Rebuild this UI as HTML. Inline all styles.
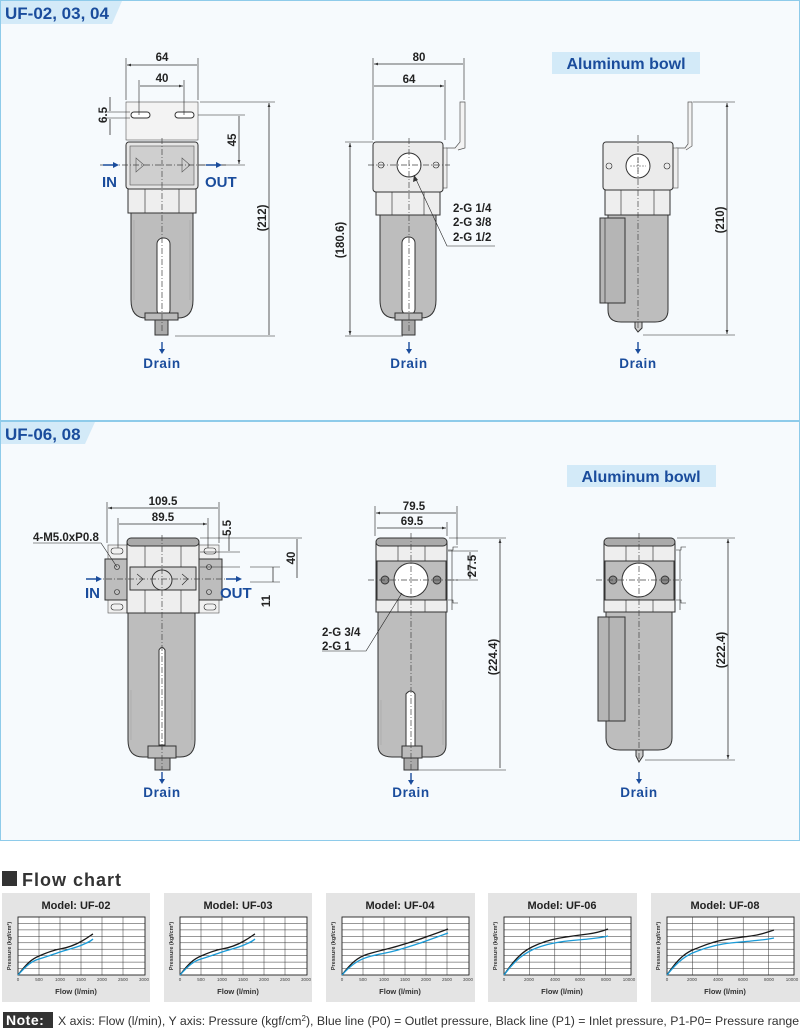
<!DOCTYPE html>
<html><head><meta charset="utf-8"><style>
html,body{margin:0;padding:0;background:#fff;width:800px;height:1028px;overflow:hidden}
svg{display:block;font-family:"Liberation Sans",Arial,sans-serif}
.d{stroke:#333;stroke-width:.8;fill:none}
.t{font-size:11.5px;font-weight:bold;fill:#222}
.b{font-weight:bold;fill:#1a4c9c}
.o{stroke:#333;stroke-width:1}
.cl{stroke:#444;stroke-width:.7;stroke-dasharray:6 2 1 2;fill:none}
.g{stroke:#222;stroke-width:.6;fill:none}
</style></head><body>
<svg width="800" height="1028" viewBox="0 0 800 1028">
<defs>
<marker id="a" viewBox="0 0 10 10" refX="10" refY="5" markerWidth="7" markerHeight="5" orient="auto-start-reverse"><path d="M0,1.5L10,5L0,8.5z" fill="#333"/></marker>
</defs>
<rect x="0.5" y="0.5" width="799" height="420" fill="#f6fafd" stroke="#8ecbea"/>
<rect x="0.5" y="421.5" width="799" height="419" fill="#f6fafd" stroke="#8ecbea"/>
<path d="M1,1H122L112,24H1z" fill="#d3eaf8"/>
<text x="5" y="19" font-size="17" font-weight="bold" fill="#1a4c9c">UF-02, 03, 04</text>
<path d="M1,422H95L85,444H1z" fill="#d3eaf8"/>
<text x="5" y="440" font-size="17" font-weight="bold" fill="#1a4c9c">UF-06, 08</text>
<rect x="552" y="52" width="148" height="22" fill="#d3eaf8"/>
<text x="626" y="69" text-anchor="middle" font-size="16" font-weight="bold" fill="#1a4c9c">Aluminum bowl</text>
<rect x="567" y="465" width="149" height="22" fill="#d3eaf8"/>
<text x="641" y="482" text-anchor="middle" font-size="16" font-weight="bold" fill="#1a4c9c">Aluminum bowl</text>

<!-- Drawing 1 -->
<g>
<rect x="126" y="102" width="72" height="38" fill="#f3f3f3" stroke="#555" stroke-width=".6"/>
<rect x="131" y="112" width="19" height="6" rx="3" fill="#fff" class="o" stroke-width=".7"/>
<rect x="175" y="112" width="19" height="6" rx="3" fill="#fff" class="o" stroke-width=".7"/>
<rect x="126" y="142" width="72" height="47" rx="3" fill="#e6e6e6" class="o"/>
<rect x="130" y="146" width="64" height="39" fill="#cfcfcf" stroke="#555" stroke-width=".6"/>
<path d="M136,158L144,165L136,172ZM182,158L190,165L182,172Z" fill="none" stroke="#555" stroke-width=".6"/>
<rect x="128" y="189" width="68" height="24" fill="#eee" class="o"/>
<path d="M145,189V213M179,189V213" class="g"/>
<path d="M131,213H193V300Q193,318 178,318H146Q131,318 131,300Z" fill="#bdbdbd" class="o"/>
<path d="M134,220V300M190,220V300" stroke="#aaa" stroke-width=".8"/>
<rect x="157" y="238" width="13" height="78" rx="6" fill="#fff" class="o" stroke-width=".7"/>
<rect x="145" y="313" width="33" height="7" fill="#bbb" class="o" stroke-width=".7"/>
<rect x="155" y="320" width="13" height="15" fill="#aaa" class="o" stroke-width=".7"/>
<path d="M162,138V332M100,165H226" class="cl"/>
<path d="M126,100V58M198,100V58M139,115V80M184,115V80" class="g"/>
<path d="M127,65H197M140,86H183" class="d" marker-start="url(#a)" marker-end="url(#a)"/>
<text x="162" y="61" class="t" text-anchor="middle">64</text>
<text x="162" y="82" class="t" text-anchor="middle">40</text>
<path d="M200,102H275M175,336H275M198,115H245M198,165H245M106,112H130M106,118H130" class="g"/>
<path d="M269,103V335M239,116V164" class="d" marker-start="url(#a)" marker-end="url(#a)"/>
<path d="M110,97V111M110,119V135" class="d"/>
<text transform="translate(266,218) rotate(-90)" class="t" text-anchor="middle" font-weight="normal">(212)</text>
<text transform="translate(236,140) rotate(-90)" class="t" text-anchor="middle">45</text>
<text transform="translate(107,115) rotate(-90)" class="t" text-anchor="middle">6.5</text>
<path d="M103,165H114" stroke="#1a4c9c" stroke-width="1.5"/><path d="M113,162L119,165L113,168Z" fill="#1a4c9c"/>
<path d="M206,165H217" stroke="#1a4c9c" stroke-width="1.5"/><path d="M216,162L222,165L216,168Z" fill="#1a4c9c"/>
<text x="102" y="187" font-size="15" class="b">IN</text>
<text x="205" y="187" font-size="15" class="b">OUT</text>
<path d="M162,342V350" stroke="#1a4c9c" stroke-width="1.4"/><path d="M159,349L162,354L165,349Z" fill="#1a4c9c"/>
<text x="162" y="368" text-anchor="middle" font-size="13.5" class="b" letter-spacing=".6">Drain</text>
</g>

<!-- Drawing 2 -->
<g>
<path d="M446,148H455L460,142V102H465V148L458,150" fill="#f3f3f3" stroke="#555" stroke-width=".7"/>
<rect x="443" y="148" width="4" height="40" fill="#eee" stroke="#555" stroke-width=".6"/>
<rect x="373" y="142" width="70" height="50" rx="3" fill="#ebebeb" class="o"/>
<circle cx="409" cy="165" r="12" fill="#fff" class="o"/>
<circle cx="381" cy="165" r="3" class="g"/><circle cx="436" cy="165" r="3" class="g"/>
<rect x="376" y="192" width="64" height="23" fill="#eee" class="o"/>
<path d="M392,192V215M424,192V215" class="g"/>
<path d="M380,215H436V300Q436,318 421,318H395Q380,318 380,300Z" fill="#bdbdbd" class="o"/>
<rect x="402" y="237" width="13" height="78" rx="6" fill="#fff" class="o" stroke-width=".7"/>
<rect x="395" y="313" width="27" height="7" fill="#bbb" class="o" stroke-width=".7"/>
<rect x="402" y="320" width="13" height="15" fill="#aaa" class="o" stroke-width=".7"/>
<path d="M409,138V332M368,165H450" class="cl"/>
<path d="M373,140V58M464,100V58M445,140V80M345,142H373M345,336H403" class="g"/>
<path d="M374,64H463M374,86H444" class="d" marker-start="url(#a)" marker-end="url(#a)"/>
<path d="M350,143V335" class="d" marker-start="url(#a)" marker-end="url(#a)"/>
<text x="419" y="61" class="t" text-anchor="middle">80</text>
<text x="409" y="83" class="t" text-anchor="middle">64</text>
<text transform="translate(344,240) rotate(-90)" class="t" text-anchor="middle">(180.6)</text>
<path d="M495,246H447L414,175" class="g"/><path d="M414,175L413,182L418,180Z" fill="#333"/>
<text x="453" y="212" class="t">2-G 1/4</text>
<text x="453" y="226" class="t">2-G 3/8</text>
<text x="453" y="241" class="t">2-G 1/2</text>
<path d="M409,342V350" stroke="#1a4c9c" stroke-width="1.4"/><path d="M406,349L409,354L412,349Z" fill="#1a4c9c"/>
<text x="409" y="368" text-anchor="middle" font-size="13.5" class="b" letter-spacing=".6">Drain</text>
</g>

<!-- Drawing 3 -->
<g>
<path d="M676,148H685L688,144V102H692V146L686,150" fill="#f3f3f3" stroke="#555" stroke-width=".7"/>
<rect x="673" y="148" width="5" height="40" fill="#eee" stroke="#555" stroke-width=".6"/>
<rect x="603" y="142" width="70" height="48" rx="3" fill="#ebebeb" class="o"/>
<circle cx="638" cy="166" r="12" fill="#fff" class="o"/>
<path d="M630,166H646M638,158V174" stroke="#444" stroke-width=".6" stroke-dasharray="2 1"/>
<circle cx="609" cy="166" r="3" class="g"/><circle cx="667" cy="166" r="3" class="g"/>
<rect x="605" y="190" width="65" height="25" fill="#eee" class="o"/>
<path d="M621,190V215M654,190V215" class="g"/>
<path d="M608,215H668V310Q668,322 655,322H621Q608,322 608,310Z" fill="#bdbdbd" class="o"/>
<rect x="600" y="218" width="25" height="85" fill="#b5b5b5" class="o"/>
<path d="M605,218V303" class="g"/>
<path d="M635,322H642V328L638,332L635,328Z" fill="#ccc" class="o" stroke-width=".7"/>
<path d="M638,135V330" class="cl"/>
<path d="M693,102H735M643,335H735" class="g"/>
<path d="M727,103V334" class="d" marker-start="url(#a)" marker-end="url(#a)"/>
<text transform="translate(724,220) rotate(-90)" class="t" text-anchor="middle" font-weight="normal">(210)</text>
<path d="M638,342V350" stroke="#1a4c9c" stroke-width="1.4"/><path d="M635,349L638,354L641,349Z" fill="#1a4c9c"/>
<text x="638" y="368" text-anchor="middle" font-size="13.5" class="b" letter-spacing=".6">Drain</text>
</g>

<!-- Drawing 4 -->
<g>
<rect x="108" y="545" width="20" height="68" fill="#f0f0f0" stroke="#555" stroke-width=".6"/>
<rect x="199" y="545" width="20" height="68" fill="#f0f0f0" stroke="#555" stroke-width=".6"/>
<rect x="105" y="559" width="23" height="41" fill="#bdbdbd" class="o"/>
<rect x="199" y="559" width="23" height="41" fill="#bdbdbd" class="o"/>
<rect x="111" y="548" width="12" height="6" rx="3" class="g" fill="#fff"/>
<rect x="111" y="604" width="12" height="6" rx="3" class="g" fill="#fff"/>
<rect x="204" y="548" width="12" height="6" rx="3" class="g" fill="#fff"/>
<rect x="204" y="604" width="12" height="6" rx="3" class="g" fill="#fff"/>
<circle cx="117" cy="567" r="2.5" class="g"/><circle cx="117" cy="592" r="2.5" class="g"/>
<circle cx="209" cy="567" r="2.5" class="g"/><circle cx="209" cy="592" r="2.5" class="g"/>
<path d="M127,613V544Q127,538 134,538H193Q199,538 199,544V613Z" fill="#eee" class="o"/>
<rect x="127" y="538" width="72" height="8" rx="4" fill="#aaa" class="o"/>
<rect x="130" y="567" width="66" height="23" fill="#d3d3d3" class="o" stroke-width=".7"/>
<path d="M145,546V567M181,546V567M145,590V613M181,590V613" class="g"/>
<circle cx="162" cy="580" r="10" fill="#ddd" class="o"/>
<path d="M137,574L143,579L137,585M182,574L188,579L182,585" class="g"/>
<path d="M128,613H195V740Q195,757 180,757H143Q128,757 128,740Z" fill="#bdbdbd" class="o"/>
<path d="M131,690V740M192,690V740" stroke="#aaa" stroke-width=".8"/>
<path d="M159,650Q162,645 165,650V745H159Z" fill="#fff" class="o" stroke-width=".7"/>
<rect x="148" y="746" width="28" height="12" fill="#bbb" class="o" stroke-width=".7"/>
<rect x="155" y="758" width="15" height="12" fill="#aaa" class="o" stroke-width=".7"/>
<path d="M162,535V770M95,579H232" class="cl"/>
<path d="M107,543V502M219,543V502M118,548V518M208,548V518M200,538H302M200,552H240M200,567H240M250,567H280M250,582H280" class="g"/>
<path d="M108,508H218M119,524H207" class="d" marker-start="url(#a)" marker-end="url(#a)"/>
<path d="M297,539V578M273,567V582M229,534V551" class="d"/>
<text x="163" y="505" class="t" text-anchor="middle">109.5</text>
<text x="163" y="521" class="t" text-anchor="middle">89.5</text>
<text transform="translate(231,528) rotate(-90)" class="t" text-anchor="middle">5.5</text>
<text transform="translate(295,558) rotate(-90)" class="t" text-anchor="middle">40</text>
<text transform="translate(270,601) rotate(-90)" class="t" text-anchor="middle">11</text>
<text x="33" y="541" class="t">4-M5.0xP0.8</text>
<path d="M33,543H101L117,567" class="g"/>
<path d="M86,579H97" stroke="#1a4c9c" stroke-width="1.5"/><path d="M96,576L102,579L96,582Z" fill="#1a4c9c"/>
<path d="M226,579H237" stroke="#1a4c9c" stroke-width="1.5"/><path d="M236,576L242,579L236,582Z" fill="#1a4c9c"/>
<text x="85" y="598" font-size="15" class="b">IN</text>
<text x="220" y="598" font-size="15" class="b">OUT</text>
<path d="M162,772V780" stroke="#1a4c9c" stroke-width="1.4"/><path d="M159,779L162,784L165,779Z" fill="#1a4c9c"/>
<text x="162" y="797" text-anchor="middle" font-size="13.5" class="b" letter-spacing=".6">Drain</text>
</g>

<!-- Drawing 5 -->
<g>
<path d="M448,550H453V547H458M448,600H453V603H458M452,550V610" class="g"/>
<path d="M376,612V544Q376,538 383,538H441Q447,538 447,544V612Z" fill="#eee" class="o"/>
<rect x="376" y="538" width="71" height="8" rx="4" fill="#aaa" class="o"/>
<rect x="377" y="561" width="69" height="39" fill="#bdbdbd" class="o" stroke-width=".7"/>
<path d="M398,546V561M425,546V561M398,600V612M425,600V612" class="g"/>
<circle cx="411" cy="580" r="17" fill="#fff" class="o"/>
<circle cx="385" cy="580" r="4" fill="#888" class="o"/><circle cx="437" cy="580" r="4" fill="#888" class="o"/>
<path d="M378,612H446V745Q446,757 432,757H392Q378,757 378,745Z" fill="#bdbdbd" class="o"/>
<path d="M381,700V745M443,700V745" stroke="#aaa" stroke-width=".8"/>
<path d="M406,694Q411,688 415,694V746H406Z" fill="#fff" class="o" stroke-width=".7"/>
<rect x="402" y="746" width="20" height="12" fill="#bbb" class="o" stroke-width=".7"/>
<rect x="404" y="758" width="14" height="12" fill="#aaa" class="o" stroke-width=".7"/>
<path d="M411,533V772M368,580H458" class="cl"/>
<path d="M375,536V506M457,545V506M447,536V522M449,538H506M418,770H506M448,551H478M448,580H478" class="g"/>
<path d="M376,513H456M377,528H446" class="d" marker-start="url(#a)" marker-end="url(#a)"/>
<path d="M500,539V768M470,552V579" class="d" marker-start="url(#a)" marker-end="url(#a)"/>
<text x="414" y="510" class="t" text-anchor="middle">79.5</text>
<text x="412" y="525" class="t" text-anchor="middle">69.5</text>
<text transform="translate(476,566) rotate(-90)" class="t" text-anchor="middle">27.5</text>
<text transform="translate(497,657) rotate(-90)" class="t" text-anchor="middle" font-weight="normal">(224.4)</text>
<path d="M322,651H366L402,593" class="g"/>
<text x="322" y="636" class="t">2-G 3/4</text>
<text x="322" y="650" class="t">2-G 1</text>
<path d="M411,773V781" stroke="#1a4c9c" stroke-width="1.4"/><path d="M408,780L411,785L414,780Z" fill="#1a4c9c"/>
<text x="411" y="797" text-anchor="middle" font-size="13.5" class="b" letter-spacing=".6">Drain</text>
</g>

<!-- Drawing 6 -->
<g>
<path d="M676,550H681V547H686M676,600H681V603H686M680,550V610" class="g"/>
<path d="M604,612V544Q604,538 611,538H669Q675,538 675,544V612Z" fill="#eee" class="o"/>
<rect x="604" y="538" width="71" height="8" rx="4" fill="#aaa" class="o"/>
<rect x="605" y="561" width="69" height="39" fill="#bdbdbd" class="o" stroke-width=".7"/>
<path d="M626,546V561M653,546V561M626,600V612M653,600V612" class="g"/>
<circle cx="639" cy="580" r="17" fill="#fff" class="o"/>
<circle cx="613" cy="580" r="4" fill="#888" class="o"/><circle cx="665" cy="580" r="4" fill="#888" class="o"/>
<path d="M606,612H672V738Q672,750 658,750H620Q606,750 606,738Z" fill="#bdbdbd" class="o"/>
<rect x="598" y="617" width="27" height="104" fill="#b5b5b5" class="o"/>
<path d="M609,617V721" class="g"/>
<path d="M636,750H643V756L639,762L636,756Z" fill="#ccc" class="o" stroke-width=".7"/>
<path d="M639,533V762M596,580H682" class="cl"/>
<path d="M677,538H735M645,760H735" class="g"/>
<path d="M728,539V759" class="d" marker-start="url(#a)" marker-end="url(#a)"/>
<text transform="translate(725,650) rotate(-90)" class="t" text-anchor="middle" font-weight="normal">(222.4)</text>
<path d="M639,772V780" stroke="#1a4c9c" stroke-width="1.4"/><path d="M636,779L639,784L642,779Z" fill="#1a4c9c"/>
<text x="639" y="797" text-anchor="middle" font-size="13.5" class="b" letter-spacing=".6">Drain</text>
</g>

<!-- Flow chart -->
<rect x="2" y="871" width="15" height="15" fill="#333"/>
<text x="22" y="886" font-size="18" font-weight="bold" fill="#333" letter-spacing="1">Flow chart</text>

<g transform="translate(2,893)">
<rect width="148" height="109" fill="#e4e4e4"/>
<text x="74" y="16" text-anchor="middle" font-size="11" font-weight="bold" fill="#222">Model: UF-02</text>
<rect x="16" y="24" width="127" height="58" fill="#fff" stroke="#222" stroke-width=".9"/>
<path d="M37,24V82M58,24V82M79,24V82M100,24V82M121,24V82M16,30.4H143M16,36.9H143M16,43.3H143M16,49.8H143M16,56.2H143M16,62.7H143M16,69.1H143M16,75.6H143" stroke="#333" stroke-width=".5"/>
<path d="M16,82C25,70 30,66 37,63S52,57 58,56S73,52 80,48S89,42 91,41" stroke="#1a1a1a" stroke-width="1.3" fill="none"/>
<path d="M16,82C25,72 30,68 37,66S52,61 58,59S73,55 80,52S89,48 91,46" stroke="#1b9bd7" stroke-width="1.3" fill="none"/>
<g font-size="4.5" fill="#444" text-anchor="middle"><text x="16" y="88">0</text><text x="37" y="88">500</text><text x="58" y="88">1000</text><text x="79" y="88">1500</text><text x="100" y="88">2000</text><text x="121" y="88">2500</text><text x="142" y="88">3000</text></g>
<text x="74" y="101" text-anchor="middle" font-size="7.5" font-weight="bold" fill="#333">Flow (l/min)</text>
<text transform="translate(9,53) rotate(-90)" text-anchor="middle" font-size="5.5" font-weight="bold" fill="#333">Pressure (kgf/cm²)</text>
</g>
<g transform="translate(164,893)">
<rect width="148" height="109" fill="#e4e4e4"/>
<text x="74" y="16" text-anchor="middle" font-size="11" font-weight="bold" fill="#222">Model: UF-03</text>
<rect x="16" y="24" width="127" height="58" fill="#fff" stroke="#222" stroke-width=".9"/>
<path d="M37,24V82M58,24V82M79,24V82M100,24V82M121,24V82M16,30.4H143M16,36.9H143M16,43.3H143M16,49.8H143M16,56.2H143M16,62.7H143M16,69.1H143M16,75.6H143" stroke="#333" stroke-width=".5"/>
<path d="M16,82C25,70 30,66 37,63S52,57 58,56S73,52 80,48S89,42 91,41" stroke="#1a1a1a" stroke-width="1.3" fill="none"/>
<path d="M16,82C25,72 30,68 37,66S52,61 58,59S73,55 80,52S89,48 91,46" stroke="#1b9bd7" stroke-width="1.3" fill="none"/>
<g font-size="4.5" fill="#444" text-anchor="middle"><text x="16" y="88">0</text><text x="37" y="88">500</text><text x="58" y="88">1000</text><text x="79" y="88">1500</text><text x="100" y="88">2000</text><text x="121" y="88">2500</text><text x="142" y="88">3000</text></g>
<text x="74" y="101" text-anchor="middle" font-size="7.5" font-weight="bold" fill="#333">Flow (l/min)</text>
<text transform="translate(9,53) rotate(-90)" text-anchor="middle" font-size="5.5" font-weight="bold" fill="#333">Pressure (kgf/cm²)</text>
</g>
<g transform="translate(326,893)">
<rect width="149" height="109" fill="#e4e4e4"/>
<text x="74" y="16" text-anchor="middle" font-size="11" font-weight="bold" fill="#222">Model: UF-04</text>
<rect x="16" y="24" width="127" height="58" fill="#fff" stroke="#222" stroke-width=".9"/>
<path d="M37,24V82M58,24V82M79,24V82M100,24V82M121,24V82M16,30.4H143M16,36.9H143M16,43.3H143M16,49.8H143M16,56.2H143M16,62.7H143M16,69.1H143M16,75.6H143" stroke="#333" stroke-width=".5"/>
<path d="M16,82C25,70 32,64 42,61S62,56 72,53S92,47 100,44S117,38 122,36" stroke="#1a1a1a" stroke-width="1.3" fill="none"/>
<path d="M16,82C25,72 32,67 42,64S62,60 72,57S92,51 100,48S117,42 122,40" stroke="#1b9bd7" stroke-width="1.3" fill="none"/>
<g font-size="4.5" fill="#444" text-anchor="middle"><text x="16" y="88">0</text><text x="37" y="88">500</text><text x="58" y="88">1000</text><text x="79" y="88">1500</text><text x="100" y="88">2000</text><text x="121" y="88">2500</text><text x="142" y="88">3000</text></g>
<text x="74" y="101" text-anchor="middle" font-size="7.5" font-weight="bold" fill="#333">Flow (l/min)</text>
<text transform="translate(9,53) rotate(-90)" text-anchor="middle" font-size="5.5" font-weight="bold" fill="#333">Pressure (kgf/cm²)</text>
</g>
<g transform="translate(488,893)">
<rect width="149" height="109" fill="#e4e4e4"/>
<text x="74" y="16" text-anchor="middle" font-size="11" font-weight="bold" fill="#222">Model: UF-06</text>
<rect x="16" y="24" width="127" height="58" fill="#fff" stroke="#222" stroke-width=".9"/>
<path d="M41.4,24V82M66.8,24V82M92.2,24V82M117.6,24V82M16,30.4H143M16,36.9H143M16,43.3H143M16,49.8H143M16,56.2H143M16,62.7H143M16,69.1H143M16,75.6H143" stroke="#333" stroke-width=".5"/>
<path d="M16,82C28,64 36,58 44,54S60,47 72,45S92,42 100,41S112,39 120,36" stroke="#1a1a1a" stroke-width="1.3" fill="none"/>
<path d="M16,82C28,66 36,61 44,57S60,51 72,49S92,47 100,46S112,45 120,43" stroke="#1b9bd7" stroke-width="1.3" fill="none"/>
<g font-size="4.5" fill="#444" text-anchor="middle"><text x="16" y="88">0</text><text x="41" y="88">2000</text><text x="67" y="88">4000</text><text x="92" y="88">6000</text><text x="118" y="88">8000</text><text x="141" y="88">10000</text></g>
<text x="74" y="101" text-anchor="middle" font-size="7.5" font-weight="bold" fill="#333">Flow (l/min)</text>
<text transform="translate(9,53) rotate(-90)" text-anchor="middle" font-size="5.5" font-weight="bold" fill="#333">Pressure (kgf/cm²)</text>
</g>
<g transform="translate(651,893)">
<rect width="149" height="109" fill="#e4e4e4"/>
<text x="74" y="16" text-anchor="middle" font-size="11" font-weight="bold" fill="#222">Model: UF-08</text>
<rect x="16" y="24" width="127" height="58" fill="#fff" stroke="#222" stroke-width=".9"/>
<path d="M41.4,24V82M66.8,24V82M92.2,24V82M117.6,24V82M16,30.4H143M16,36.9H143M16,43.3H143M16,49.8H143M16,56.2H143M16,62.7H143M16,69.1H143M16,75.6H143" stroke="#333" stroke-width=".5"/>
<path d="M16,82C28,64 36,59 44,56S60,49 72,47S92,44 100,43S114,40 123,37" stroke="#1a1a1a" stroke-width="1.3" fill="none"/>
<path d="M16,82C28,67 36,62 44,59S60,53 72,51S92,49 100,48S114,47 123,45" stroke="#1b9bd7" stroke-width="1.3" fill="none"/>
<g font-size="4.5" fill="#444" text-anchor="middle"><text x="16" y="88">0</text><text x="41" y="88">2000</text><text x="67" y="88">4000</text><text x="92" y="88">6000</text><text x="118" y="88">8000</text><text x="141" y="88">10000</text></g>
<text x="74" y="101" text-anchor="middle" font-size="7.5" font-weight="bold" fill="#333">Flow (l/min)</text>
<text transform="translate(9,53) rotate(-90)" text-anchor="middle" font-size="5.5" font-weight="bold" fill="#333">Pressure (kgf/cm²)</text>
</g>

<rect x="3" y="1012" width="50" height="16" fill="#333"/>
<text x="6" y="1025" font-size="14" font-weight="bold" fill="#fff" letter-spacing=".5">Note:</text>
<text x="58" y="1025" font-size="12.3" fill="#333">X axis: Flow (l/min), Y axis: Pressure (kgf/cm<tspan dy="-4" font-size="8">2</tspan><tspan dy="4">), Blue line (P0) = Outlet pressure, Black line (P1) = Inlet pressure, P1-P0= Pressure range</tspan></text>
</svg>
</body></html>
